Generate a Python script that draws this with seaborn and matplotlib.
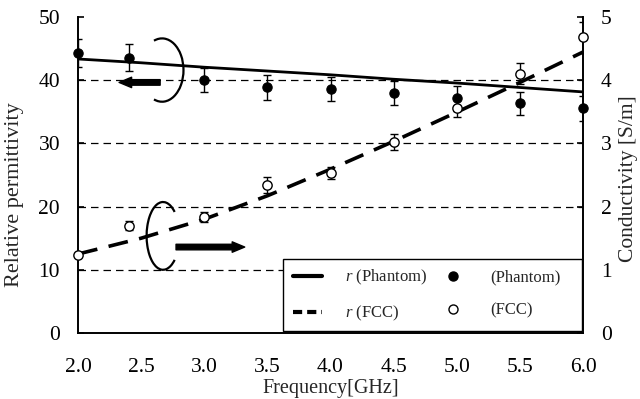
import matplotlib
matplotlib.use("Agg")
import matplotlib.pyplot as plt
from matplotlib.patches import Arc, Rectangle
from matplotlib.lines import Line2D
import seaborn as sns
import numpy as np

# ---- data ----
freq_pts = [2.0, 2.4, 3.0, 3.5, 4.0, 4.5, 5.0, 5.5, 6.0]
phantom_perm = [44.3, 43.5, 40.0, 38.8, 38.6, 37.9, 37.1, 36.3, 35.5]
phantom_perm_err = [2.2, 2.15, 1.9, 1.9, 1.9, 1.9, 1.95, 1.8, 1.95]
fcc_cond = [1.23, 1.70, 1.84, 2.34, 2.53, 3.02, 3.56, 4.10, 4.67]
fcc_cond_err = [0.0, 0.07, 0.08, 0.12, 0.09, 0.12, 0.15, 0.17, 0.25]

freq_curve = [2.0, 2.5, 3.0, 3.5, 4.0, 4.5, 5.0, 5.5, 6.0]
phantom_perm_curve = [43.3, 42.7, 42.0, 41.4, 40.8, 40.1, 39.5, 38.8, 38.1]   # r (Phantom)
fcc_cond_curve = [1.25, 1.50, 1.80, 2.17, 2.59, 3.03, 3.49, 3.96, 4.44]       # r (FCC)

x_ticks = [2.0, 2.5, 3.0, 3.5, 4.0, 4.5, 5.0, 5.5, 6.0]
x_ticklabels = ["2.0", "2.5", "3.0", "3.5", "4.0", "4.5", "5.0", "5.5", "6.0"]
y_ticks = [0, 10, 20, 30, 40, 50]
y2_ticks = [0, 1, 2, 3, 4, 5]
grid_levels = [10, 20, 30, 40]

legend_labels = ["$r$ (Phantom)", "$r$ (FCC)", "(Phantom)", "(FCC)"]

# ---- style ----
sns.set_style("white")
plt.rcParams["font.family"] = ["Liberation Serif", "DejaVu Serif"]
plt.rcParams["mathtext.fontset"] = "custom"
plt.rcParams["mathtext.it"] = "Liberation Serif:italic"
plt.rcParams["mathtext.rm"] = "Liberation Serif"

fig = plt.figure(figsize=(6.4, 3.99), dpi=100)
ax = fig.add_axes([0.122, 0.165, 0.789, 0.7935])
ax2 = ax.twinx()

# gridlines
for g in grid_levels:
    ax.axhline(g, color="black", lw=0.9, ls=(0, (6, 4)), zorder=1)

# solid curve (left axis)
sns.lineplot(x=freq_curve, y=phantom_perm_curve, ax=ax, color="black",
             linewidth=2.0, zorder=3)
ax.errorbar(freq_pts, phantom_perm, yerr=phantom_perm_err, fmt="none",
            ecolor="black", elinewidth=1.0, capsize=3, capthick=1.0, zorder=4)
sns.scatterplot(x=freq_pts, y=phantom_perm, ax=ax, color="black", s=45,
                edgecolor="black", linewidth=0.8, zorder=5, clip_on=False)

# dashed curve (right axis)
sns.lineplot(x=freq_curve, y=fcc_cond_curve, ax=ax2, color="black",
             linewidth=2.6, linestyle=(0, (5.5, 3.2)), zorder=3)
ax2.errorbar(freq_pts, fcc_cond, yerr=fcc_cond_err, fmt="none",
             ecolor="black", elinewidth=1.0, capsize=3, capthick=1.0, zorder=4)
sns.scatterplot(x=freq_pts, y=fcc_cond, ax=ax2, facecolor="white", s=45,
                edgecolor="black", linewidth=1.0, zorder=5, clip_on=False)


# annotations: partial ellipses + arrows
def arc_theta(phi_deg, w, h):
    # convert a parametric ellipse angle to matplotlib's Arc angle convention
    p = np.deg2rad(phi_deg)
    return np.rad2deg(np.arctan2(np.sin(p), (w / h) * np.cos(p)))


w1, h1 = 0.34, 10.0
ax.add_patch(Arc((2.665, 41.55), w1, h1,
                 theta1=arc_theta(-112, w1, h1), theta2=arc_theta(112, w1, h1),
                 color="black", lw=1.6, zorder=6))
w2, h2 = 0.26, 10.7
ax.add_patch(Arc((2.673, 15.36), w2, h2,
                 theta1=arc_theta(45, w2, h2), theta2=arc_theta(315, w2, h2),
                 color="black", lw=1.6, zorder=6))
arrow_style = "simple,head_length=0.9,head_width=0.75,tail_width=0.4"
ax.annotate("", xy=(2.325, 39.6), xytext=(2.65, 39.6),
            arrowprops=dict(arrowstyle=arrow_style, color="black",
                            shrinkA=0, shrinkB=0, mutation_scale=10), zorder=7)
ax.annotate("", xy=(3.32, 13.6), xytext=(2.776, 13.6),
            arrowprops=dict(arrowstyle=arrow_style, color="black",
                            shrinkA=0, shrinkB=0, mutation_scale=10), zorder=7)

# axes
ax.set_xlim(2.0, 6.0)
ax.set_ylim(0, 50)
ax2.set_ylim(0, 5)
ax.set_xticks(x_ticks)
ax.set_xticklabels(x_ticklabels)
ax.set_yticks(y_ticks)
ax2.set_yticks(y2_ticks)

for a in (ax, ax2):
    a.spines["top"].set_visible(False)
    for s in a.spines.values():
        s.set_linewidth(1.4)
        s.set_color("black")
ax.spines["right"].set_visible(False)
ax2.spines["left"].set_visible(False)
ax2.spines["bottom"].set_visible(False)

ax.tick_params(axis="x", direction="in", length=6, width=1.2, pad=18,
               labelsize=15.5, colors="black")
ax.tick_params(axis="y", direction="in", length=4, width=1.2, pad=13,
               labelsize=15.5, colors="black")
ax2.tick_params(axis="y", direction="in", length=4, width=1.2, pad=13,
                labelsize=15.5, colors="black")

ax.set_xlabel("Frequency[GHz]", fontsize=14.5, labelpad=1)
ax.set_ylabel("Relative permittivity", fontsize=16)
ax2.set_ylabel("Conductivity [S/m]", fontsize=15.5, rotation=90)
ax.yaxis.set_label_coords(-0.107, 0.436)
ax2.yaxis.set_label_coords(1.072, 0.487)
ax.grid(False)
ax2.grid(False)

# legend box
box = Rectangle((0.406, 0.006), 0.592, 0.228, transform=ax2.transAxes,
                facecolor="white", edgecolor="black", lw=1.0, zorder=15,
                clip_on=False)
ax2.add_patch(box)

handles = [
    Line2D([], [], color="black", lw=3.0),
    Line2D([], [], color="black", lw=3.0, ls=(0, (2.2, 1.2))),
    Line2D([], [], color="black", marker="o", ls="none", markersize=6.5,
           markerfacecolor="black"),
    Line2D([], [], color="black", marker="o", ls="none", markersize=6.5,
           markerfacecolor="white"),
]
leg = ax2.legend(handles, legend_labels, ncol=2, loc="upper left",
                 bbox_to_anchor=(0.426, 0.205), fontsize=12, frameon=False,
                 handlelength=1.75, handletextpad=1.38, labelspacing=1.0,
                 borderaxespad=0, borderpad=0, columnspacing=0.66)
leg.set_zorder(20)

fig.savefig("out.png", dpi=100)
